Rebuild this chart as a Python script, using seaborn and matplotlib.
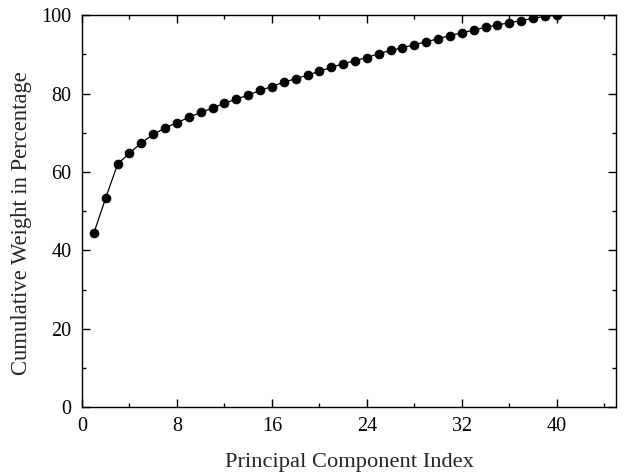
import matplotlib
matplotlib.use("Agg")
import matplotlib.pyplot as plt
import seaborn as sns
import pandas as pd
from matplotlib.ticker import MultipleLocator

component_index = list(range(1, 41))
cumulative_weight = [44.4, 53.4, 62.0, 64.8, 67.4, 69.6, 71.2, 72.6, 73.9, 75.2,
                     76.3, 77.5, 78.6, 79.6, 80.8, 81.8, 82.9, 83.8, 84.7, 85.7,
                     86.7, 87.6, 88.4, 89.2, 90.2, 91.0, 91.7, 92.5, 93.2, 94.0,
                     94.8, 95.5, 96.2, 96.9, 97.5, 98.1, 98.6, 99.2, 99.7, 100.0]

sns.set_style("ticks")
plt.rcParams['font.family'] = ['Liberation Serif', 'DejaVu Serif']

df = pd.DataFrame({"idx": component_index, "w": cumulative_weight})

fig = plt.figure(figsize=(6.28, 4.75), dpi=100)
ax = fig.add_axes([0.1306, 0.143, 0.8504, 0.825])
sns.lineplot(data=df, x="idx", y="w", ax=ax, color="black", linewidth=0.9,
             marker="o", markersize=6.2, markeredgecolor="black", markerfacecolor="black")

ax.set_xlim(0, 45)
ax.set_ylim(0, 100)
ax.xaxis.set_major_locator(MultipleLocator(8))
ax.xaxis.set_minor_locator(MultipleLocator(4))
ax.yaxis.set_major_locator(MultipleLocator(20))
ax.yaxis.set_minor_locator(MultipleLocator(10))
ax.tick_params(which="both", direction="in", top=True, right=True, colors="black",
               labelsize=14.5, width=1)
ax.tick_params(which="major", length=5.8, pad=7.5)
ax.tick_params(which="minor", length=2.9)
for s in ax.spines.values():
    s.set_color("black")
    s.set_linewidth(1)
ax.set_xlabel("Principal Component Index", fontsize=16.2, labelpad=12)
ax.set_ylabel("Cumulative Weight in Percentage", fontsize=16.3, labelpad=7)
ax.yaxis.label.set_y(0.47)

fig.savefig("out.png", dpi=100)
